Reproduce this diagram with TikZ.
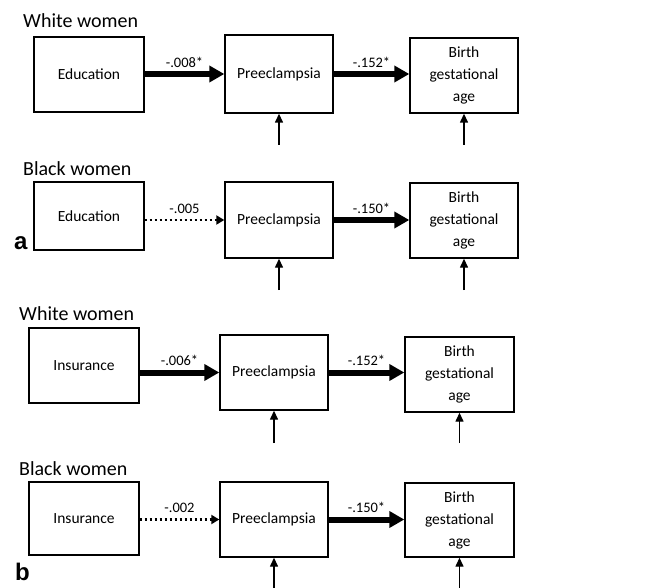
\documentclass[tikz,border=0pt]{standalone}
\usepackage{fontspec}
\setmainfont{Carlito}
\newfontfamily\panelfont{Liberation Sans}
\usetikzlibrary{calc,arrows.meta}
\tikzset{
  box/.style={draw=black, line width=1.4pt, minimum width=108pt, minimum height=75pt,
    inner sep=0pt, align=center, font=\fontsize{15.5}{22}\selectfont},
  sig/.style={draw=black, line width=6pt, -{Triangle[length=15pt,width=16pt]}},
  nsig/.style={draw=black, line width=2.6pt, dash pattern=on 2.6pt off 2.4pt,
    -{Triangle[length=8pt,width=9pt]}},
  err/.style={draw=black, line width=1.4pt, -{Triangle[length=9pt,width=8pt]}},
  wt/.style={above, inner sep=3.5pt, font=\fontsize{14.5}{16}\selectfont},
  ttl/.style={anchor=base west, inner sep=0pt, font=\fontsize{20}{24}\selectfont},
  panel/.style={anchor=base west, inner sep=0pt, font=\panelfont\bfseries\fontsize{24}{28}\selectfont},
}

\begin{document}
\begin{tikzpicture}[x=1pt, y=-1pt]
  \useasboundingbox (0,0) rectangle (648,588);
  % (a) education
  \node[ttl] (t1) at (23,28) {White women};
  \node[box, minimum width=110pt] (edu1) at (89,74.5) {Education};
  \node[box, minimum height=78pt] (pre1) at (279,74) {Preeclampsia};
  \node[box] (bga1) at (464,75.5) {Birth\\gestational\\age};
  \coordinate (u1p) at (279,145);
  \coordinate (u1b) at (464,145);
  \draw[sig] (edu1.east |- pre1.west) -- node[wt] {-.008*} (pre1.west);
  \draw[sig] (pre1.east) -- node[wt] {-.152*} (pre1.east -| bga1.west);
  \draw[err] (u1p) -- (pre1.south);
  \draw[err] (u1b) -- (bga1.south);

  \node[ttl] (t2) at (23,176) {Black women};
  \node[box, minimum width=110pt, minimum height=68pt] (edu2) at (89,216) {Education};
  \node[box, minimum height=76pt] (pre2) at (279,220) {Preeclampsia};
  \node[box] (bga2) at (464,220.5) {Birth\\gestational\\age};
  \coordinate (u2p) at (279,290);
  \coordinate (u2b) at (464,290);
  \draw[nsig] (edu2.east |- pre2.west) -- node[wt, inner sep=5.5pt] {-.005} (pre2.west);
  \draw[sig] (pre2.east) -- node[wt] {-.150*} (pre2.east -| bga2.west);
  \draw[err] (u2p) -- (pre2.south);
  \draw[err] (u2b) -- (bga2.south);
  \node[panel] (pa) at (14,250) {a};

  % (b) insurance
  \node[ttl] (t3) at (19,320) {White women};
  \node[box, minimum width=110pt] (ins3) at (84,365.5) {Insurance};
  \node[box] (pre3) at (274,372.5) {Preeclampsia};
  \node[box, minimum width=109pt] (bga3) at (459.5,374.5) {Birth\\gestational\\age};
  \coordinate (u3p) at (274,443);
  \coordinate (u3b) at (459.5,443);
  \draw[sig] (ins3.east |- pre3.west) -- node[wt] {-.006*} (pre3.west);
  \draw[sig] (pre3.east) -- node[wt] {-.152*} (pre3.east -| bga3.west);
  \draw[err] (u3p) -- (pre3.south);
  \draw[err] (u3b) -- (bga3.south);

  \node[ttl] (t4) at (19,475) {Black women};
  \node[box, minimum width=110pt, minimum height=73pt] (ins4) at (84,518.5) {Insurance};
  \node[box] (pre4) at (274,519.5) {Preeclampsia};
  \node[box, minimum width=109pt, minimum height=74pt] (bga4) at (459.5,520) {Birth\\gestational\\age};
  \coordinate (u4p) at (274,588);
  \coordinate (u4b) at (459.5,588);
  \draw[nsig] (ins4.east |- pre4.west) -- node[wt, inner sep=5.5pt] {-.002} (pre4.west);
  \draw[sig] (pre4.east) -- node[wt] {-.150*} (pre4.east -| bga4.west);
  \draw[err] (u4p) -- (pre4.south);
  \draw[err] (u4b) -- (bga4.south);
  \node[panel] (pb) at (15,580) {b};
\end{tikzpicture}
\end{document}
